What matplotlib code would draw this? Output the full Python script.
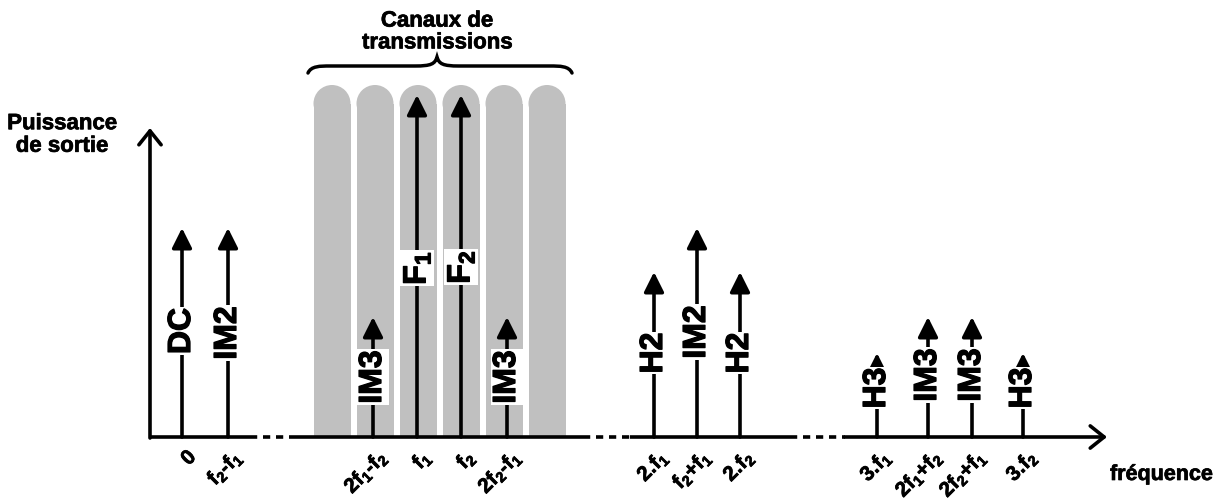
import matplotlib
matplotlib.use('Agg')
import matplotlib.pyplot as plt
import matplotlib.patheffects as pe
from matplotlib.patches import Rectangle, Ellipse, PathPatch
from matplotlib.path import Path

plt.rcParams['font.family'] = ['Liberation Sans', 'DejaVu Sans']
plt.rcParams['font.weight'] = 'bold'
plt.rcParams['mathtext.fontset'] = 'custom'
plt.rcParams['mathtext.rm'] = 'Liberation Sans:bold'
plt.rcParams['mathtext.it'] = 'Liberation Sans:bold'
plt.rcParams['mathtext.bf'] = 'Liberation Sans:bold'

# spectral lines (schematic frequency / power units)
freqs = [32, 78, 223, 267, 311, 357, 504, 547, 590, 727, 778, 822, 873]
powers = [209, 209, 120, 342, 342, 120, 165, 209, 165, 84, 120, 120, 84]
line_names = ['DC', 'IM2', 'IM3', 'F$_1$', 'F$_2$', 'IM3',
              'H2', 'IM2', 'H2', 'H3', 'IM3', 'IM3', 'H3']
name_pos = [106, 104, 60, 169, 170, 60, 84, 105, 84, 49, 62, 62, 49]
tick_labels = ['0', 'f$_2$-f$_1$', '2f$_1$-f$_2$', 'f$_1$', 'f$_2$', '2f$_2$-f$_1$',
               '2.f$_1$', 'f$_2$+f$_1$', '2.f$_2$', '3.f$_1$',
               '2f$_1$+f$_2$', '2f$_2$+f$_1$', '3.f$_2$']

# transmission channels
channels = [182, 225, 268, 311, 354, 397]
channel_top = 352
channel_w = 37

# axis: solid pieces, the gaps between them are dotted
solid_parts = [(0, 100), (140, 433), (480, 640), (695, 957)]

fig = plt.figure(figsize=(12.21, 5.01), dpi=100)
ax = fig.add_axes([0, 0, 1, 1])
ax.set_xlim(-150, 1071)
ax.set_ylim(-64, 437)
ax.axis('off')

heavy = [pe.withStroke(linewidth=0.9, foreground='k')]
light = [pe.withStroke(linewidth=0.5, foreground='k')]

grey = '#c0c0c0'
for c in channels:
    r = channel_w / 2
    ax.add_patch(Rectangle((c - r, 0), channel_w, channel_top - r,
                           facecolor=grey, edgecolor='none', zorder=1))
    ax.add_patch(Ellipse((c, channel_top - r), channel_w, channel_w,
                         facecolor=grey, edgecolor='none', zorder=1))

# frequency axis
lw = 2.6
for a, b in solid_parts[:-1]:
    ax.plot([a, b], [0, 0], color='k', lw=lw, solid_capstyle='butt', zorder=2)
for (a0, a1), (b0, b1) in zip(solid_parts[:-1], solid_parts[1:]):
    ax.plot([a1, b0], [0, 0], color='k', lw=lw, dashes=(2, 1.6), zorder=2)
last = solid_parts[-1]
ax.annotate('', xy=(last[1], 0), xytext=(last[0], 0),
            arrowprops=dict(arrowstyle='->,head_length=0.4,head_width=0.32',
                            lw=lw, color='k', shrinkA=0, shrinkB=0,
                            mutation_scale=25), zorder=2)
# power axis
ax.annotate('', xy=(0, 309), xytext=(0, -1),
            arrowprops=dict(arrowstyle='->,head_length=0.4,head_width=0.32',
                            lw=lw, color='k', shrinkA=0, shrinkB=0,
                            mutation_scale=25), zorder=2)

for f, p, name, npos, tl in zip(freqs, powers, line_names, name_pos, tick_labels):
    ax.annotate('', xy=(f, p), xytext=(f, 0),
                arrowprops=dict(arrowstyle='-|>,head_length=0.4,head_width=0.2',
                                lw=lw, color='k', shrinkA=0, shrinkB=0,
                                mutation_scale=30), zorder=2)
    ax.text(f, npos, name, rotation=90, ha='center', va='center',
            fontsize=23, fontweight='bold', zorder=3, path_effects=heavy,
            bbox=dict(boxstyle='square,pad=0.03', facecolor='white',
                      edgecolor='none'))
    ax.text(f + 11, -17, tl, rotation=45, rotation_mode='anchor',
            ha='right', va='center', fontsize=15, fontweight='bold',
            path_effects=light)

# brace above the channels
bl, br, bm = 158, 422, 287
verts = [(bl, 364), (bl + 3, 371), (bl + 12, 371), (bl + 22, 371),
         (bm - 22, 371),
         (bm - 6, 371), (bm - 2, 373), (bm, 380),
         (bm + 2, 373), (bm + 6, 371), (bm + 22, 371),
         (br - 22, 371),
         (br - 12, 371), (br - 3, 371), (br, 364)]
codes = [Path.MOVETO, Path.CURVE4, Path.CURVE4, Path.CURVE4,
         Path.LINETO,
         Path.CURVE4, Path.CURVE4, Path.CURVE4,
         Path.CURVE4, Path.CURVE4, Path.CURVE4,
         Path.LINETO,
         Path.CURVE4, Path.CURVE4, Path.CURVE4]
ax.add_patch(PathPatch(Path(verts, codes), facecolor='none', edgecolor='k',
                       lw=2.5, capstyle='round'))

ax.text(bm, 405, 'Canaux de\ntransmissions', ha='center', va='center',
        fontsize=16, fontweight='bold', linespacing=1.05, path_effects=light)
ax.text(-88, 302, 'Puissance\nde sortie', ha='center', va='center',
        fontsize=16, fontweight='bold', linespacing=1.1, path_effects=light)
ax.text(960, -43, 'fréquence', ha='left', va='baseline',
        fontsize=15.5, fontweight='bold', path_effects=light)

fig.savefig('out.png', dpi=100)
